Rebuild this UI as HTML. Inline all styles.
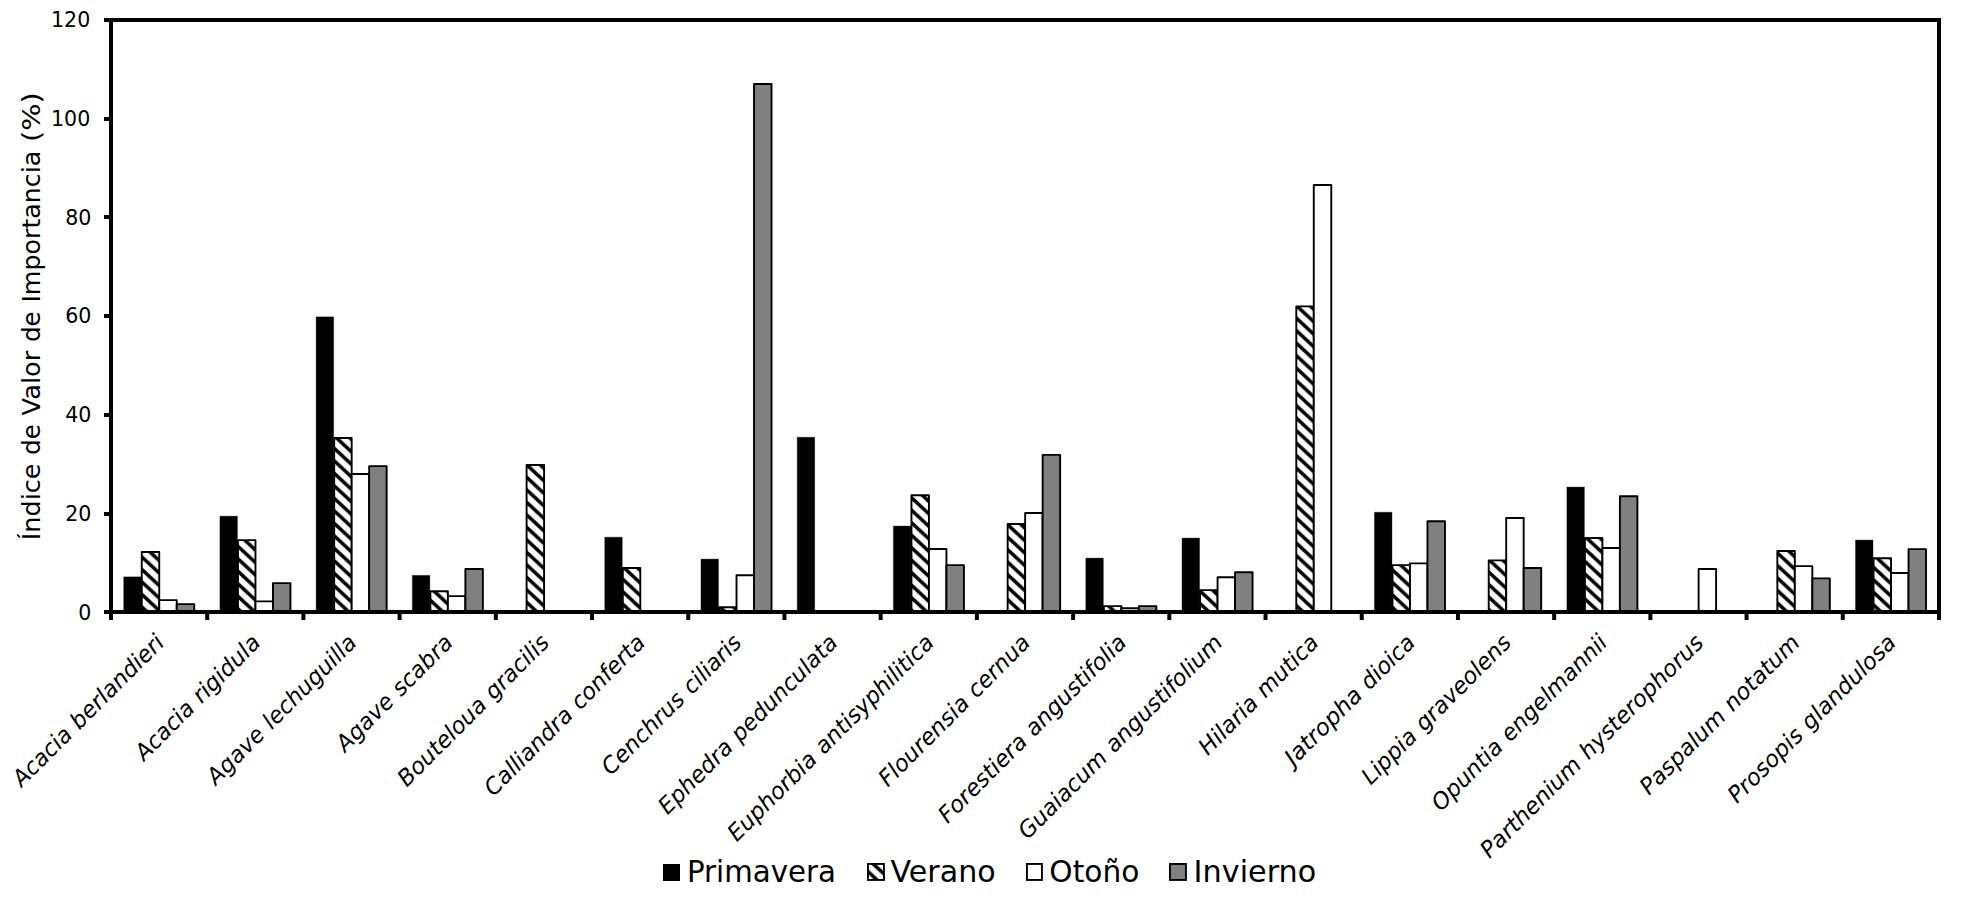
<!DOCTYPE html>
<html lang="es"><head><meta charset="utf-8"><title>Índice de Valor de Importancia</title>
<style>html,body{margin:0;padding:0;background:#fff}svg{display:block}text{font-family:"DejaVu Sans","Liberation Sans",sans-serif;fill:#000}</style></head><body>
<svg width="1962" height="902" viewBox="0 0 1962 902">
<defs><pattern id="hx" patternUnits="userSpaceOnUse" x="0" y="0" width="13.441" height="12.500"><rect width="13.441" height="12.500" fill="#fff"/><line x1="-13.441" y1="-25.000" x2="26.882" y2="12.500" stroke="#000" stroke-width="3.50"/><line x1="-13.441" y1="-12.500" x2="26.882" y2="25.000" stroke="#000" stroke-width="3.50"/><line x1="-13.441" y1="0.000" x2="26.882" y2="37.500" stroke="#000" stroke-width="3.50"/></pattern><pattern id="hl" patternUnits="userSpaceOnUse" x="874.3" y="864.9" width="13.441" height="12.500"><rect width="13.441" height="12.500" fill="#fff"/><line x1="-13.441" y1="-25.000" x2="26.882" y2="12.500" stroke="#000" stroke-width="3.50"/><line x1="-13.441" y1="-12.500" x2="26.882" y2="25.000" stroke="#000" stroke-width="3.50"/><line x1="-13.441" y1="0.000" x2="26.882" y2="37.500" stroke="#000" stroke-width="3.50"/></pattern></defs>
<rect width="1962" height="902" fill="#fff"/>
<g stroke="#000" stroke-width="1.90" stroke-linejoin="round">
<rect x="123.72" y="576.87" width="17.49" height="35.13" fill="#000" stroke-width="0.36"/>
<rect x="141.76" y="552.01" width="17.49" height="59.99" fill="url(#hx)"/>
<rect x="159.26" y="600.11" width="17.49" height="11.89" fill="#fff"/>
<rect x="176.75" y="604.11" width="17.49" height="7.89" fill="#808080"/>
<rect x="219.93" y="516.19" width="17.49" height="95.81" fill="#000" stroke-width="0.36"/>
<rect x="237.97" y="540.17" width="17.49" height="71.83" fill="url(#hx)"/>
<rect x="255.47" y="601.35" width="17.49" height="10.65" fill="#fff"/>
<rect x="272.96" y="583.09" width="17.49" height="28.91" fill="#808080"/>
<rect x="316.14" y="316.89" width="17.49" height="295.11" fill="#000" stroke-width="0.36"/>
<rect x="334.18" y="438.05" width="17.49" height="173.95" fill="url(#hx)"/>
<rect x="351.68" y="474.07" width="17.49" height="137.93" fill="#fff"/>
<rect x="369.17" y="466.17" width="17.49" height="145.83" fill="#808080"/>
<rect x="412.35" y="575.39" width="17.49" height="36.61" fill="#000" stroke-width="0.36"/>
<rect x="430.39" y="591.23" width="17.49" height="20.77" fill="url(#hx)"/>
<rect x="447.89" y="596.12" width="17.49" height="15.88" fill="#fff"/>
<rect x="465.38" y="569.03" width="17.49" height="42.97" fill="#808080"/>
<rect x="526.60" y="464.94" width="17.49" height="147.06" fill="url(#hx)"/>
<rect x="604.77" y="537.21" width="17.49" height="74.79" fill="#000" stroke-width="0.36"/>
<rect x="622.82" y="567.95" width="17.49" height="44.05" fill="url(#hx)"/>
<rect x="700.98" y="559.11" width="17.49" height="52.89" fill="#000" stroke-width="0.36"/>
<rect x="719.03" y="607.27" width="17.49" height="4.73" fill="url(#hx)"/>
<rect x="736.52" y="575.20" width="17.49" height="36.80" fill="#fff"/>
<rect x="754.01" y="83.99" width="17.49" height="528.01" fill="#808080"/>
<rect x="797.19" y="437.26" width="17.49" height="174.74" fill="#000" stroke-width="0.36"/>
<rect x="893.40" y="526.06" width="17.49" height="85.94" fill="#000" stroke-width="0.36"/>
<rect x="911.45" y="495.28" width="17.49" height="116.72" fill="url(#hx)"/>
<rect x="928.94" y="549.05" width="17.49" height="62.95" fill="#fff"/>
<rect x="946.43" y="565.09" width="17.49" height="46.91" fill="#808080"/>
<rect x="1007.66" y="524.04" width="17.49" height="87.96" fill="url(#hx)"/>
<rect x="1025.15" y="513.04" width="17.49" height="98.96" fill="#fff"/>
<rect x="1042.64" y="454.83" width="17.49" height="157.17" fill="#808080"/>
<rect x="1085.82" y="558.13" width="17.49" height="53.87" fill="#000" stroke-width="0.36"/>
<rect x="1103.87" y="606.08" width="17.49" height="5.92" fill="url(#hx)"/>
<rect x="1121.36" y="608.25" width="17.49" height="3.75" fill="#fff"/>
<rect x="1138.85" y="606.08" width="17.49" height="5.92" fill="#808080"/>
<rect x="1182.04" y="538.10" width="17.49" height="73.90" fill="#000" stroke-width="0.36"/>
<rect x="1200.08" y="590.15" width="17.49" height="21.85" fill="url(#hx)"/>
<rect x="1217.57" y="577.27" width="17.49" height="34.73" fill="#fff"/>
<rect x="1235.06" y="572.24" width="17.49" height="39.76" fill="#808080"/>
<rect x="1296.29" y="306.33" width="17.49" height="305.67" fill="url(#hx)"/>
<rect x="1313.78" y="184.97" width="17.49" height="427.03" fill="#fff"/>
<rect x="1374.46" y="512.25" width="17.49" height="99.75" fill="#000" stroke-width="0.36"/>
<rect x="1392.50" y="565.09" width="17.49" height="46.91" fill="url(#hx)"/>
<rect x="1409.99" y="563.36" width="17.49" height="48.64" fill="#fff"/>
<rect x="1427.48" y="521.18" width="17.49" height="90.82" fill="#808080"/>
<rect x="1488.71" y="560.40" width="17.49" height="51.60" fill="url(#hx)"/>
<rect x="1506.20" y="517.97" width="17.49" height="94.03" fill="#fff"/>
<rect x="1523.70" y="567.95" width="17.49" height="44.05" fill="#808080"/>
<rect x="1566.88" y="487.09" width="17.49" height="124.91" fill="#000" stroke-width="0.36"/>
<rect x="1584.92" y="538.00" width="17.49" height="74.00" fill="url(#hx)"/>
<rect x="1602.41" y="548.07" width="17.49" height="63.93" fill="#fff"/>
<rect x="1619.91" y="496.27" width="17.49" height="115.73" fill="#808080"/>
<rect x="1698.62" y="569.03" width="17.49" height="42.97" fill="#fff"/>
<rect x="1777.34" y="551.03" width="17.49" height="60.97" fill="url(#hx)"/>
<rect x="1794.83" y="566.17" width="17.49" height="45.83" fill="#fff"/>
<rect x="1812.33" y="578.36" width="17.49" height="33.64" fill="#808080"/>
<rect x="1855.51" y="540.07" width="17.49" height="71.93" fill="#000" stroke-width="0.36"/>
<rect x="1873.55" y="558.18" width="17.49" height="53.82" fill="url(#hx)"/>
<rect x="1891.04" y="573.03" width="17.49" height="38.97" fill="#fff"/>
<rect x="1908.54" y="549.10" width="17.49" height="62.90" fill="#808080"/>
</g>
<g stroke="#000" stroke-width="4" fill="none">
<rect x="111.0" y="20.0" width="1828.0" height="592.0"/>
<line x1="104" y1="612.00" x2="111.0" y2="612.00"/>
<line x1="104" y1="514.00" x2="111.0" y2="514.00"/>
<line x1="104" y1="415.00" x2="111.0" y2="415.00"/>
<line x1="104" y1="316.00" x2="111.0" y2="316.00"/>
<line x1="104" y1="217.00" x2="111.0" y2="217.00"/>
<line x1="104" y1="119.00" x2="111.0" y2="119.00"/>
<line x1="104" y1="20.00" x2="111.0" y2="20.00"/>
<line x1="111.00" y1="612.0" x2="111.00" y2="620"/>
<line x1="207.21" y1="612.0" x2="207.21" y2="620"/>
<line x1="303.42" y1="612.0" x2="303.42" y2="620"/>
<line x1="399.63" y1="612.0" x2="399.63" y2="620"/>
<line x1="495.84" y1="612.0" x2="495.84" y2="620"/>
<line x1="592.05" y1="612.0" x2="592.05" y2="620"/>
<line x1="688.26" y1="612.0" x2="688.26" y2="620"/>
<line x1="784.47" y1="612.0" x2="784.47" y2="620"/>
<line x1="880.68" y1="612.0" x2="880.68" y2="620"/>
<line x1="976.89" y1="612.0" x2="976.89" y2="620"/>
<line x1="1073.11" y1="612.0" x2="1073.11" y2="620"/>
<line x1="1169.32" y1="612.0" x2="1169.32" y2="620"/>
<line x1="1265.53" y1="612.0" x2="1265.53" y2="620"/>
<line x1="1361.74" y1="612.0" x2="1361.74" y2="620"/>
<line x1="1457.95" y1="612.0" x2="1457.95" y2="620"/>
<line x1="1554.16" y1="612.0" x2="1554.16" y2="620"/>
<line x1="1650.37" y1="612.0" x2="1650.37" y2="620"/>
<line x1="1746.58" y1="612.0" x2="1746.58" y2="620"/>
<line x1="1842.79" y1="612.0" x2="1842.79" y2="620"/>
<line x1="1939.00" y1="612.0" x2="1939.00" y2="620"/>
</g>
<g font-size="21">
<text x="78.31" y="619.65" textLength="13.09" lengthAdjust="spacingAndGlyphs">0</text>
<text x="65.21" y="520.65" textLength="26.19" lengthAdjust="spacingAndGlyphs">20</text>
<text x="65.21" y="421.67" textLength="26.19" lengthAdjust="spacingAndGlyphs">40</text>
<text x="65.21" y="322.67" textLength="26.19" lengthAdjust="spacingAndGlyphs">60</text>
<text x="65.21" y="224.78" textLength="26.19" lengthAdjust="spacingAndGlyphs">80</text>
<text x="51.02" y="125.66" textLength="39.28" lengthAdjust="spacingAndGlyphs">100</text>
<text x="51.02" y="26.67" textLength="39.28" lengthAdjust="spacingAndGlyphs">120</text>
</g>
<text font-size="25" transform="translate(39.9,540.20) rotate(-90)"><tspan x="0.00" textLength="76.70" lengthAdjust="spacingAndGlyphs">Índice</tspan> <tspan x="85.49" textLength="30.47" lengthAdjust="spacingAndGlyphs">de</tspan> <tspan x="124.74" textLength="64.81" lengthAdjust="spacingAndGlyphs">Valor</tspan> <tspan x="198.34" textLength="30.47" lengthAdjust="spacingAndGlyphs">de</tspan> <tspan x="237.60" textLength="151.84" lengthAdjust="spacingAndGlyphs">Importancia</tspan> <tspan x="398.23" textLength="49.61" lengthAdjust="spacingAndGlyphs">(%)</tspan></text>
<g font-size="22.85" font-style="italic">
<text transform="translate(21.80,787.81) rotate(-45)"><tspan x="0.00" textLength="73.15" lengthAdjust="spacingAndGlyphs">Acacia</tspan> <tspan x="81.18" textLength="122.19" lengthAdjust="spacingAndGlyphs">berlandieri</tspan></text>
<text transform="translate(144.15,761.66) rotate(-45)"><tspan x="0.00" textLength="73.15" lengthAdjust="spacingAndGlyphs">Acacia</tspan> <tspan x="81.18" textLength="85.22" lengthAdjust="spacingAndGlyphs">rigidula</tspan></text>
<text transform="translate(216.12,785.91) rotate(-45)"><tspan x="0.00" textLength="70.71" lengthAdjust="spacingAndGlyphs">Agave</tspan> <tspan x="78.75" textLength="121.94" lengthAdjust="spacingAndGlyphs">lechuguilla</tspan></text>
<text transform="translate(345.35,752.89) rotate(-45)"><tspan x="0.00" textLength="70.71" lengthAdjust="spacingAndGlyphs">Agave</tspan> <tspan x="78.75" textLength="75.24" lengthAdjust="spacingAndGlyphs">scabra</tspan></text>
<text transform="translate(406.70,787.75) rotate(-45)"><tspan x="0.00" textLength="114.93" lengthAdjust="spacingAndGlyphs">Bouteloua</tspan> <tspan x="122.96" textLength="80.33" lengthAdjust="spacingAndGlyphs">gracilis</tspan></text>
<text transform="translate(493.38,797.28) rotate(-45)"><tspan x="0.00" textLength="114.38" lengthAdjust="spacingAndGlyphs">Calliandra</tspan> <tspan x="122.42" textLength="94.36" lengthAdjust="spacingAndGlyphs">conferta</tspan></text>
<text transform="translate(610.71,776.16) rotate(-45)"><tspan x="0.00" textLength="106.51" lengthAdjust="spacingAndGlyphs">Cenchrus</tspan> <tspan x="114.54" textLength="72.37" lengthAdjust="spacingAndGlyphs">ciliaris</tspan></text>
<text transform="translate(667.54,815.54) rotate(-45)"><tspan x="0.00" textLength="94.47" lengthAdjust="spacingAndGlyphs">Ephedra</tspan> <tspan x="102.50" textLength="140.09" lengthAdjust="spacingAndGlyphs">pedunculata</tspan></text>
<text transform="translate(736.75,842.54) rotate(-45)"><tspan x="0.00" textLength="115.45" lengthAdjust="spacingAndGlyphs">Euphorbia</tspan> <tspan x="123.49" textLength="157.29" lengthAdjust="spacingAndGlyphs">antisyphilitica</tspan></text>
<text transform="translate(887.68,787.82) rotate(-45)"><tspan x="0.00" textLength="117.45" lengthAdjust="spacingAndGlyphs">Flourensia</tspan> <tspan x="125.49" textLength="77.91" lengthAdjust="spacingAndGlyphs">cernua</tspan></text>
<text transform="translate(947.48,824.23) rotate(-45)"><tspan x="0.00" textLength="114.63" lengthAdjust="spacingAndGlyphs">Forestiera</tspan> <tspan x="122.66" textLength="132.22" lengthAdjust="spacingAndGlyphs">angustifolia</tspan></text>
<text transform="translate(1027.56,840.37) rotate(-45)"><tspan x="0.00" textLength="114.48" lengthAdjust="spacingAndGlyphs">Guaiacum</tspan> <tspan x="122.52" textLength="155.19" lengthAdjust="spacingAndGlyphs">angustifolium</tspan></text>
<text transform="translate(1207.84,756.29) rotate(-45)"><tspan x="0.00" textLength="73.18" lengthAdjust="spacingAndGlyphs">Hilaria</tspan> <tspan x="81.21" textLength="77.59" lengthAdjust="spacingAndGlyphs">mutica</tspan></text>
<text transform="translate(1293.69,766.66) rotate(-45)"><tspan x="0.00" textLength="99.15" lengthAdjust="spacingAndGlyphs">Jatropha</tspan> <tspan x="107.19" textLength="66.27" lengthAdjust="spacingAndGlyphs">dioica</tspan></text>
<text transform="translate(1370.81,785.74) rotate(-45)"><tspan x="0.00" textLength="67.46" lengthAdjust="spacingAndGlyphs">Lippia</tspan> <tspan x="75.49" textLength="124.96" lengthAdjust="spacingAndGlyphs">graveolens</tspan></text>
<text transform="translate(1440.63,812.13) rotate(-45)"><tspan x="0.00" textLength="90.14" lengthAdjust="spacingAndGlyphs">Opuntia</tspan> <tspan x="98.17" textLength="139.60" lengthAdjust="spacingAndGlyphs">engelmannii</tspan></text>
<text transform="translate(1489.60,859.37) rotate(-45)"><tspan x="0.00" textLength="131.74" lengthAdjust="spacingAndGlyphs">Parthenium</tspan> <tspan x="139.78" textLength="164.80" lengthAdjust="spacingAndGlyphs">hysterophorus</tspan></text>
<text transform="translate(1649.09,796.10) rotate(-45)"><tspan x="0.00" textLength="110.32" lengthAdjust="spacingAndGlyphs">Paspalum</tspan> <tspan x="118.36" textLength="96.74" lengthAdjust="spacingAndGlyphs">notatum</tspan></text>
<text transform="translate(1737.04,804.35) rotate(-45)"><tspan x="0.00" textLength="95.58" lengthAdjust="spacingAndGlyphs">Prosopis</tspan> <tspan x="103.62" textLength="123.15" lengthAdjust="spacingAndGlyphs">glandulosa</tspan></text>
</g>
<g font-size="30">
<rect x="663.95" y="864.95" width="15.10" height="15.10" fill="#000" stroke="#000" stroke-width="1.90"/>
<text x="686.9" y="881.9" textLength="149.19" lengthAdjust="spacingAndGlyphs">Primavera</text>
<rect x="867.95" y="863.95" width="16.00" height="16.00" fill="url(#hl)" stroke="#000" stroke-width="1.90"/>
<text x="890.5" y="881.9" textLength="105.15" lengthAdjust="spacingAndGlyphs">Verano</text>
<rect x="1026.95" y="863.95" width="15.00" height="16.00" fill="#fff" stroke="#000" stroke-width="1.90"/>
<text x="1049.3" y="881.9" textLength="90.01" lengthAdjust="spacingAndGlyphs">Otoño</text>
<rect x="1169.95" y="863.95" width="16.00" height="16.00" fill="#808080" stroke="#000" stroke-width="1.90"/>
<text x="1193.6" y="881.9" textLength="122.72" lengthAdjust="spacingAndGlyphs">Invierno</text>
</g>
</svg></body></html>
